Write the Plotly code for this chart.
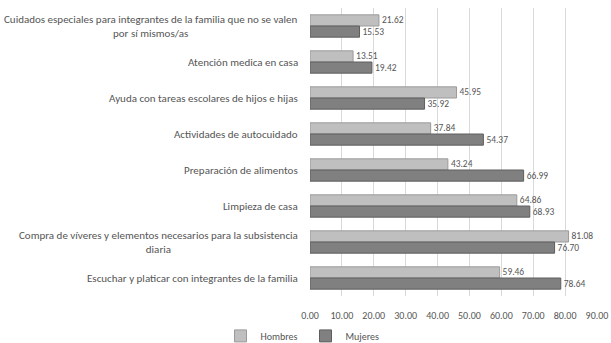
import plotly.graph_objects as go

categories = [
    "Cuidados especiales para integrantes de la familia que no se valen<br>por sí mismos/as",
    "Atención medica en casa",
    "Ayuda con tareas escolares de hijos e hijas",
    "Actividades de autocuidado",
    "Preparación de alimentos",
    "Limpieza de casa",
    "Compra de víveres y elementos necesarios para la subsistencia<br>diaria",
    "Escuchar y platicar con integrantes de la familia",
]
hombres = [21.62, 13.51, 45.95, 37.84, 43.24, 64.86, 81.08, 59.46]
mujeres = [15.53, 19.42, 35.92, 54.37, 66.99, 68.93, 76.70, 78.64]
x_ticks = [0, 10, 20, 30, 40, 50, 60, 70, 80, 90]

FONT = "Carlito, Lato, Liberation Sans, sans-serif"
TXT = "#555555"
fig = go.Figure()
fig.add_trace(go.Bar(
    y=categories, x=hombres, name="Hombres", orientation="h",
    marker=dict(color="#BFBFBF", line=dict(color="#9A9A9A", width=1)),
    text=[f"{v:.2f}" for v in hombres], textposition="outside",
    textfont=dict(size=11, color=TXT, family=FONT), cliponaxis=False,
))
fig.add_trace(go.Bar(
    y=categories, x=mujeres, name="Mujeres", orientation="h",
    marker=dict(color="#808080", line=dict(color="#5E5E5E", width=1)),
    text=[f"{v:.2f}" for v in mujeres], textposition="outside",
    textfont=dict(size=11, color=TXT, family=FONT), cliponaxis=False,
))

for c in categories:
    fig.add_annotation(
        x=0, xref="paper", y=c, yref="y", xanchor="right", xshift=-10,
        text=c, showarrow=False, align="center",
        font=dict(size=11, color=TXT, family=FONT),
    )

fig.update_layout(
    width=611, height=343,
    margin=dict(l=310, r=14, t=8, b=47, autoexpand=False),
    paper_bgcolor="white", plot_bgcolor="white",
    barmode="group", bargap=0.38, bargroupgap=0.0,
    font=dict(family=FONT, size=10, color=TXT),
    showlegend=True,
    legend=dict(orientation="h", x=0.5, xref="container", xanchor="center",
                y=0.063, yref="container", yanchor="top",
                bgcolor="rgba(0,0,0,0)",
                font=dict(size=10, color=TXT), itemwidth=30,
                entrywidth=40, entrywidthmode="pixels",
                traceorder="normal"),
    xaxis=dict(range=[0, 90], tickvals=x_ticks, tickformat=".2f",
               showgrid=True, gridcolor="#D9D9D9", gridwidth=1,
               zeroline=False, showline=False, ticks="", automargin=False,
               ticklabeloverflow="allow", ticklabelstandoff=12,
               tickfont=dict(size=10, color=TXT)),
    yaxis=dict(autorange="reversed", showticklabels=False, showgrid=False,
               zeroline=False, showline=False, ticks="", automargin=False),
)

fig.write_html("out.html", config={"displayModeBar": False},
               post_script="document.body.style.margin='0';")
